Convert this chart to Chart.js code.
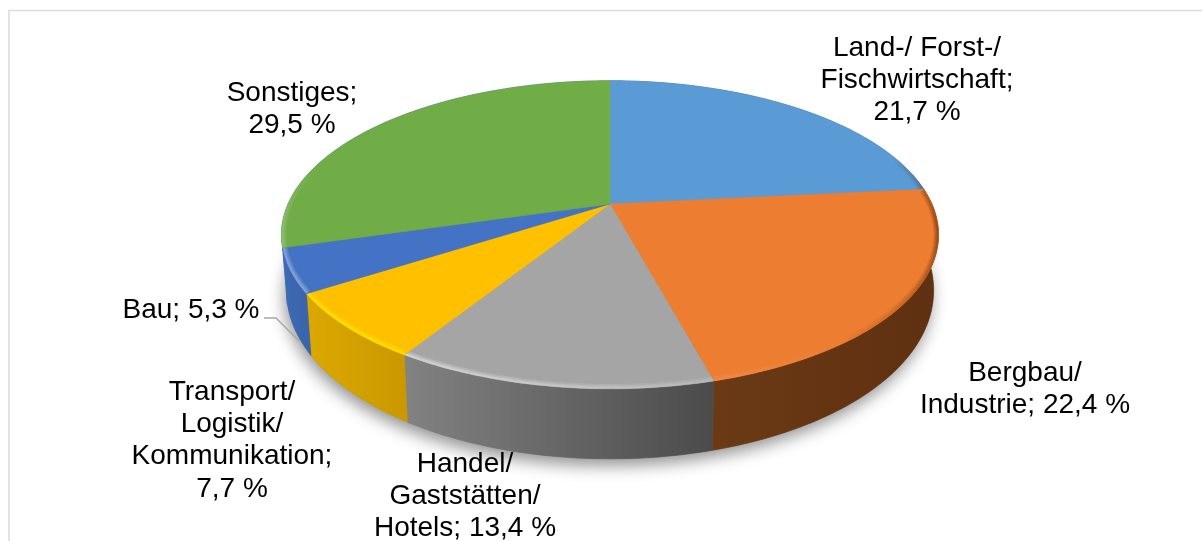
<!DOCTYPE html>
<html><head><meta charset="utf-8">
<script src="https://cdn.jsdelivr.net/npm/chart.js@4"></script>
<style>html,body{margin:0;padding:0;background:#fff;overflow:hidden}canvas{display:block}</style>
</head><body><canvas id="c" width="1202" height="541"></canvas>
<script>
const categories = ['Land-/ Forst-/ Fischwirtschaft','Bergbau/ Industrie','Handel/ Gaststätten/ Hotels','Transport/ Logistik/ Kommunikation','Bau','Sonstiges'];
const shares = [21.7, 22.4, 13.4, 7.7, 5.3, 29.5];
const sliceColors = ['#5b9bd5','#ed7d31','#a5a5a5','#ffc000','#4472c4','#70ad47'];
const wallLeft  = ['#3a6a96','#6b3a15','#828282','#dca800','#3c6ab4','#3c6ab4'];
const wallRight = ['#3a6a96','#5f3011','#4b4b4b','#c99800','#3a64aa','#3c6ab4'];
const rimStrength = [0.4,0.4,0.7,1,0.45,0.3];
const labelLines = [
  ['Land-/ Forst-/','Fischwirtschaft;','{v}'],
  ['Bergbau/','Industrie; {v}'],
  ['Handel/','Gaststätten/','Hotels; {v}'],
  ['Transport/','Logistik/','Kommunikation;','{v}'],
  ['Bau; {v}'],
  ['Sonstiges;','{v}']
];
const labelAnchors = [[917,48],[1025,373],[465,464],[232,392],[191,310],[292,93]];
const LINE_H = 32.3;

const P = {ax:1.578, by:0.725, k:0.2, warp:6.2*Math.PI/180, warpC:125*Math.PI/180, s:0.985, d0:52, d1:18};
function proj(arc, a, bottom){
  let t = a + Math.PI/2;
  if (t>=0 && t<=2*P.warpC) t += P.warp*(1-Math.pow(Math.abs(t-P.warpC)/P.warpC,4));
  const u=Math.sin(t), v=-Math.cos(t), R=arc.outerRadius, w=1-P.k*v;
  let x=P.ax*R*u/w, y=P.by*R*v/w;
  if(bottom){ x*=P.s; y+=P.d0+P.d1*v; }
  return {x:arc.x+x, y:arc.y+y, u, v};
}
function arcPts(arc,bottom){
  const pts=[], n=Math.max(2,Math.ceil((arc.endAngle-arc.startAngle)/(Math.PI/180)));
  for(let i=0;i<=n;i++) pts.push(proj(arc,arc.startAngle+(arc.endAngle-arc.startAngle)*i/n,bottom));
  return pts;
}
function mix(hex,target,f){
  const c=[1,3,5].map(i=>parseInt(hex.substr(i,2),16));
  return 'rgb('+c.map((x,i)=>Math.round(x+(target[i]-x)*f)).join(',')+')';
}
const pie3d = {
  id:'pie3d',
  beforeDraw(chart){
    const c=chart.ctx; c.save();
    c.strokeStyle='#dcdcdc'; c.lineWidth=1.5;
    c.beginPath(); c.moveTo(9,541); c.lineTo(9,10.5); c.lineTo(1202,10.5); c.stroke();
    c.restore();
  },
  beforeDatasetsDraw(chart){
    const c=chart.ctx, arcs=chart.getDatasetMeta(0).data;
    c.save();
    c.shadowColor='rgba(0,0,0,.42)'; c.shadowBlur=16; c.shadowOffsetX=-2; c.shadowOffsetY=7;
    c.fillStyle='#888'; c.beginPath();
    arcs.forEach(a=>arcPts(a,true).forEach(p=>c.lineTo(p.x,p.y)));
    c.closePath(); c.fill(); c.restore();
    arcs.forEach((a,i)=>{
      const top=arcPts(a,false), bot=arcPts(a,true).reverse();
      const xs=top.concat(bot).map(p=>p.x);
      const g=c.createLinearGradient(Math.min(...xs),0,Math.max(...xs),0);
      g.addColorStop(0,wallLeft[i]); g.addColorStop(1,wallRight[i]);
      c.fillStyle=g; c.strokeStyle=g; c.lineWidth=.6;
      c.beginPath(); top.concat(bot).forEach(p=>c.lineTo(p.x,p.y)); c.closePath(); c.fill(); c.stroke();
    });
    arcs.forEach((a,i)=>{
      const pts=arcPts(a,false), base=sliceColors[i];
      c.save();
      c.beginPath(); c.moveTo(a.x,a.y); pts.forEach(p=>c.lineTo(p.x,p.y)); c.closePath();
      c.fillStyle=base; c.fill(); c.strokeStyle=base; c.lineWidth=.5; c.stroke();
      c.clip();
      c.lineCap='butt';
      [[10,.25],[7,.35],[4,.5]].forEach(([lw,al])=>{
        c.lineWidth=lw; c.globalAlpha=al;
        for(let j=0;j<pts.length-1;j++){
          const p=pts[j], q=pts[j+1];
          const w=Math.max(0,Math.min(1,(p.v+0.35)/0.5));
          const f=(-p.u*0.8+p.v*0.6)*w;
          if(Math.abs(f)<0.04) continue;
          let col;
          if(f>0){
            const hi = i===3 ? [255,232,0] : [255,255,255];
            col=mix(base,hi,Math.min(1,f*rimStrength[i]));
          } else col=mix(base,[70,30,0],Math.min(1,-f*0.95));
          c.strokeStyle=col; c.beginPath(); c.moveTo(p.x,p.y); c.lineTo(q.x,q.y); c.stroke();
        }
      });
      c.restore();
    });
    return false;
  },
  afterDraw(chart){
    const c=chart.ctx; c.save();
    c.strokeStyle='#a6a6a6'; c.lineWidth=1.4;
    c.beginPath(); c.moveTo(264,318); c.lineTo(276,318); c.lineTo(299,341); c.stroke();
    c.fillStyle='#000'; c.font='28px "Liberation Sans"'; c.textAlign='center'; c.textBaseline='middle';
    labelLines.forEach((lines,i)=>{
      const v=shares[i].toFixed(1).replace('.',',')+' %';
      lines.forEach((l,j)=>c.fillText(l.replace('{v}',v),labelAnchors[i][0],labelAnchors[i][1]+j*LINE_H));
    });
    c.restore();
  }
};
new Chart(document.getElementById('c'),{
  type:'pie',
  data:{labels:categories,datasets:[{data:shares,backgroundColor:sliceColors,borderWidth:0}]},
  options:{responsive:false,animation:false,
    layout:{padding:{left:18,top:0,right:0,bottom:133}},
    plugins:{legend:{display:false},tooltip:{enabled:false}}},
  plugins:[pie3d]
});
</script></body></html>
